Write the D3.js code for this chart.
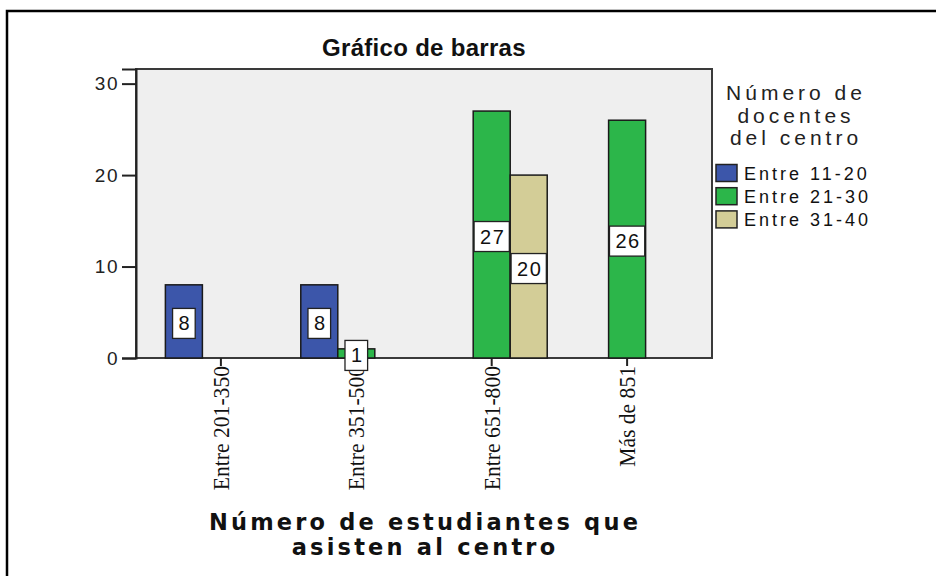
<!DOCTYPE html>
<html>
<head>
<meta charset="utf-8">
<script src="https://cdn.jsdelivr.net/npm/d3@7"></script>
<style>
  body { margin: 0; background: #fff; }
  svg { display: block; }
</style>
</head>
<body>
<script>
var categories = ["Entre 201-350", "Entre 351-500", "Entre 651-800", "Más de 851"];
var series = ["Entre 11-20", "Entre 21-30", "Entre 31-40"];
var colors = ["#3c56aa", "#2cb64a", "#d3cd97"];
var values11_20 = [8, 8, 0, 0];
var values21_30 = [0, 1, 27, 26];
var values31_40 = [0, 0, 20, 0];
var yTicks = [0, 10, 20, 30];
var legendTitle = ["Número de", "docentes", "del centro"];
var xTitle = ["Número de estudiantes que", "asisten al centro"];

var seriesValues = [values11_20, values21_30, values31_40];

var chart = d3.select("body").append("svg");
chart.attr("width", 936).attr("height", 576);

// outer frame (only top and left edges are visible)
chart.append("path")
    .attr("d", "M7,580 L7,11 L940,11")
    .attr("fill", "none")
    .attr("stroke", "#000")
    .attr("stroke-width", 2.5);

var pLeft = 136, pRight = 712, pTop = 69, pBottom = 358;

var x = d3.scaleBand().domain(categories).range([pLeft, pRight])
    .paddingInner(0.18).paddingOuter(0.217);
var x1 = d3.scaleBand().domain(series).range([0, x.bandwidth()]);
var y = d3.scaleLinear().domain([0, 31.6]).range([pBottom, pTop]);

// plot background
chart.append("rect")
    .attr("x", pLeft).attr("y", pTop)
    .attr("width", pRight - pLeft).attr("height", pBottom - pTop)
    .attr("fill", "#efefef")
    .attr("stroke", "#3a3a3a")
    .attr("stroke-width", 2);

// title
chart.append("text")
    .attr("x", (pLeft + pRight) / 2).attr("y", 56)
    .attr("text-anchor", "middle")
    .attr("font-family", "Liberation Sans, Arial, sans-serif")
    .attr("font-weight", "bold")
    .attr("font-size", 24)
    .attr("letter-spacing", 0.3)
    .attr("fill", "#111")
    .text("Gráfico de barras");

// y axis
var yAxis = d3.axisLeft(y).tickValues(yTicks).tickSize(14).tickPadding(3);
var gy = chart.append("g").attr("transform", "translate(" + pLeft + ",0)").call(yAxis);
gy.select(".domain").attr("stroke", "#222").attr("stroke-width", 2);
gy.selectAll(".tick line").attr("stroke", "#222").attr("stroke-width", 2);
gy.selectAll(".tick text")
    .attr("font-family", "Liberation Sans, Arial, sans-serif")
    .attr("font-size", 19)
    .attr("letter-spacing", 1.5)
    .attr("fill", "#222");

// x axis
var xAxis = d3.axisBottom(x).tickSize(8).tickPadding(0);
var gx = chart.append("g").attr("transform", "translate(0," + pBottom + ")").call(xAxis);
gx.select(".domain").remove();
gx.selectAll(".tick line").attr("stroke", "#222").attr("stroke-width", 2);
gx.selectAll(".tick text")
    .attr("font-family", "Liberation Serif, Times New Roman, serif")
    .attr("font-size", 24)
    .attr("fill", "#111")
    .attr("text-anchor", "end")
    .attr("dy", null)
    .attr("transform", "translate(8,8) rotate(-90) scale(0.9,1)")
    .attr("y", 0).attr("x", 0);

// bars
var rows = [];
categories.forEach(function(c, i){
    series.forEach(function(s, j){
        rows.push({cat: c, ser: s, v: seriesValues[j][i], color: colors[j]});
    });
});
rows = rows.filter(function(d){ return d.v > 0; });

var bars = chart.selectAll("g.bar").data(rows).enter().append("g").attr("class", "bar");
bars.append("rect")
    .attr("x", function(d){ return x(d.cat) + x1(d.ser); })
    .attr("y", function(d){ return y(d.v); })
    .attr("width", x1.bandwidth())
    .attr("height", function(d){ return pBottom - y(d.v); })
    .attr("fill", function(d){ return d.color; })
    .attr("stroke", "#1a1a1a")
    .attr("stroke-width", 1.5);

// value labels
bars.each(function(d){
    var g = d3.select(this);
    var cx = x(d.cat) + x1(d.ser) + x1.bandwidth() / 2;
    var cy = (y(d.v) + pBottom) / 2 + 2;
    var box = g.append("rect").attr("fill", "#fff").attr("stroke", "#222").attr("stroke-width", 1.3);
    var t = g.append("text")
        .attr("x", cx + 1).attr("y", cy + 7)
        .attr("text-anchor", "middle")
        .attr("font-family", "Liberation Sans, Arial, sans-serif")
        .attr("font-size", 20)
        .attr("letter-spacing", 1.5)
        .attr("fill", "#111")
        .text(d.v);
    var w = t.node().getComputedTextLength() + 10;
    box.attr("x", cx - w / 2).attr("y", cy - 15).attr("width", w).attr("height", 30);
});

// x title
chart.selectAll("text.xtitle").data(xTitle).enter().append("text")
    .attr("class", "xtitle")
    .attr("x", (pLeft + pRight) / 2 + 1)
    .attr("y", function(d, i){ return 530 + i * 25; })
    .attr("text-anchor", "middle")
    .attr("font-family", "DejaVu Sans, Verdana, sans-serif")
    .attr("font-weight", "bold")
    .attr("font-size", 22.5)
    .attr("letter-spacing", 3.2)
    .attr("fill", "#111")
    .text(function(d){ return d; });

// legend
chart.selectAll("text.ltitle").data(legendTitle).enter().append("text")
    .attr("class", "ltitle")
    .attr("x", 796)
    .attr("y", function(d, i){ return 100 + i * 22.5; })
    .attr("text-anchor", "middle")
    .attr("font-family", "Liberation Sans, Arial, sans-serif")
    .attr("font-size", 21)
    .attr("letter-spacing", 4)
    .attr("fill", "#222")
    .text(function(d){ return d; });

var legend = chart.selectAll("g.legend").data(series).enter().append("g")
    .attr("class", "legend")
    .attr("transform", function(d, i){ return "translate(716," + (164.5 + i * 23.2) + ")"; });
legend.append("rect")
    .attr("width", 21).attr("height", 17)
    .attr("fill", function(d, i){ return colors[i]; })
    .attr("stroke", "#222").attr("stroke-width", 1.5);
legend.append("text")
    .attr("x", 28).attr("y", 15)
    .attr("font-family", "Liberation Sans, Arial, sans-serif")
    .attr("font-size", 18)
    .attr("letter-spacing", 3)
    .attr("fill", "#111")
    .text(function(d){ return d; });
</script>
</body>
</html>
